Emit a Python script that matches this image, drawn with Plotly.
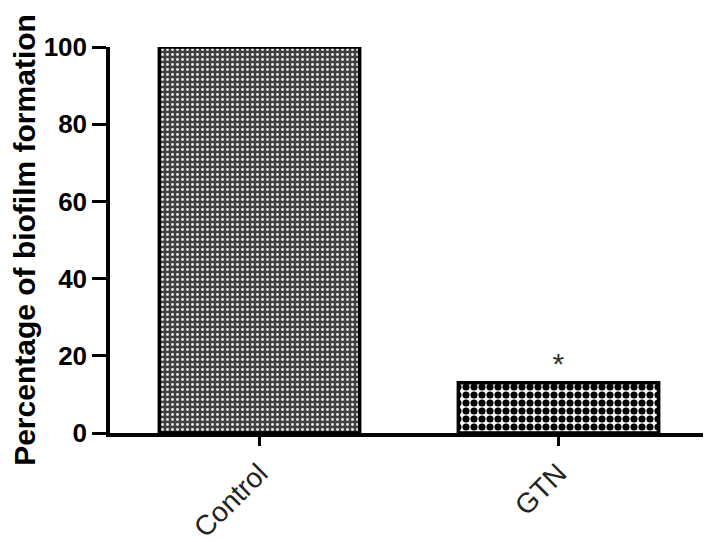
import plotly.graph_objects as go

groups = ["Control", "GTN"]
biofilm_pct = [100, 13]
marks = ["", "*"]

fig = go.Figure()
fig.add_trace(go.Bar(
    x=groups, y=biofilm_pct, width=0.67,
    marker=dict(
        color="white",
        line=dict(color="black", width=3.5),
        pattern=dict(shape=[".", "."], size=[5, 8], solidity=[0.28, 0.62],
                     fgcolor=["#e8e8e8", "black"], bgcolor=["#404040", "white"],
                     fillmode="replace"),
    ),
    text=marks, textposition="outside",
    textfont=dict(family="Liberation Sans, Arial", size=30, color="#333"),
    cliponaxis=False,
))

# page body has an 8px margin, so the plot box is shifted up-left to compensate
fig.update_layout(
    width=711, height=542,
    margin=dict(l=102, r=11, t=39, b=117),
    plot_bgcolor="white", paper_bgcolor="white",
    showlegend=False,
    font=dict(family="Liberation Sans, Arial", color="black"),
)
fig.update_yaxes(
    range=[0, 100], tickvals=[0, 20, 40, 60, 80, 100], automargin=False,
    showline=True, linecolor="black", linewidth=3.5, showgrid=False, zeroline=False,
    ticks="outside", ticklen=14, tickwidth=3, tickcolor="black",
    tickfont=dict(size=26, weight="bold"),
    title=dict(text="Percentage of biofilm formation",
               font=dict(size=30, weight="bold"), standoff=4),
)
fig.update_xaxes(
    range=[-0.5, 1.5], automargin=False,
    showline=True, linecolor="black", linewidth=3.5, showgrid=False,
    ticks="outside", ticklen=9, tickwidth=3, tickcolor="black",
    tickangle=-45, tickfont=dict(size=28, color="#222"),
)

fig.write_html("out.html")
